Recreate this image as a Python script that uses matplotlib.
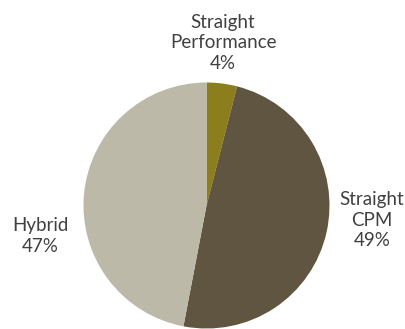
import matplotlib
matplotlib.use("Agg")
import matplotlib.pyplot as plt

categories = ["Straight\nPerformance", "Straight\nCPM", "Hybrid"]
shares = [4, 49, 47]
colors = ["#8C7E1C", "#5F5541", "#BDB9A9"]

W, H = 405, 329
fig = plt.figure(figsize=(W / 100, H / 100), dpi=100)
ax = fig.add_axes([0, 0, 1, 1])

cx, cy, r = 206.5, H - 205.5, 123
ax.pie(shares, colors=colors, startangle=90, counterclock=False,
       center=(cx, cy), radius=r, frame=True,
       wedgeprops=dict(linewidth=0))
ax.set_xlim(0, W)
ax.set_ylim(0, H)
ax.set_aspect("equal")
ax.axis("off")

label_pos = [(223, 43), (372, 220), (40, 236)]
for name, val, (x, y) in zip(categories, shares, label_pos):
    ax.text(x, H - y, f"{name}\n{val}%", ha="center", va="center",
            fontsize=13.5, color="#404040", family="Lato", linespacing=1.28)

fig.savefig("out.png", dpi=100)
